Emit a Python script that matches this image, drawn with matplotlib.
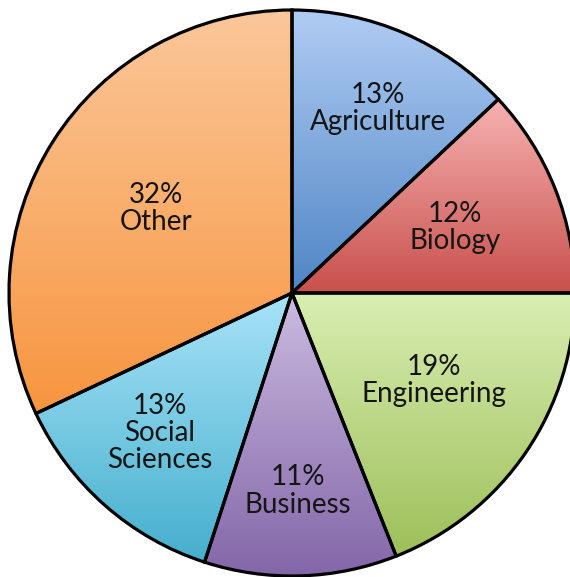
import numpy as np
import matplotlib
matplotlib.use("Agg")
import matplotlib.pyplot as plt
from matplotlib.colors import LinearSegmentedColormap

# данные
categories = ["Agriculture", "Biology", "Engineering", "Business", "Social\nSciences", "Other"]
shares = [13, 12, 19, 11, 13, 32]
top_colors = ["#b0ccf4", "#f6b2b1", "#d9eeb3", "#cbbbe0", "#a8e3f8", "#fbc79a"]
bottom_colors = ["#4f85c4", "#c8504c", "#9dbf58", "#8366a8", "#45afcd", "#f7953f"]
label_dist = [0.72, 0.62, 0.59, 0.70, 0.68, 0.565]
label_turn = [-1.5, 0.4, 2.6, -0.1, -1.9, 0.4]  # градусы

W, H = 570, 577
fig = plt.figure(figsize=(W / 100, H / 100), dpi=100)
ax = fig.add_axes([0, 0, 1, 1])

cx, cy, R = 292, H - 293, 283
wedges, _ = ax.pie(shares, startangle=90, counterclock=False, radius=R, center=(cx, cy),
                   frame=True, wedgeprops=dict(edgecolor="black", linewidth=2.3, facecolor="none"))

grad = np.linspace(0, 1, 256).reshape(-1, 1)
for w, c_top, c_bot, lab, v, d, t in zip(wedges, top_colors, bottom_colors, categories,
                                         shares, label_dist, label_turn):
    bb = w.get_path().get_extents(w.get_patch_transform())
    cmap = LinearSegmentedColormap.from_list("g", [c_bot, c_top])
    im = ax.imshow(grad, cmap=cmap, extent=[bb.x0, bb.x1, bb.y0, bb.y1], origin="lower",
                   aspect="auto", zorder=0.5, interpolation="bilinear")
    im.set_clip_path(w)
    w.set_zorder(2)
    ang = np.deg2rad((w.theta1 + w.theta2) / 2 + t)
    tx = cx + d * R * np.cos(ang)
    ty = cy + d * R * np.sin(ang)
    ax.text(tx, ty, f"{v}%\n{lab}", ha="center", va="center", fontsize=20,
            family="Lato", color="#151515", linespacing=1.05, zorder=3)

ax.set_xlim(0, W)
ax.set_ylim(0, H)
ax.set_aspect("equal")
ax.axis("off")
fig.savefig("out.png", dpi=100)
